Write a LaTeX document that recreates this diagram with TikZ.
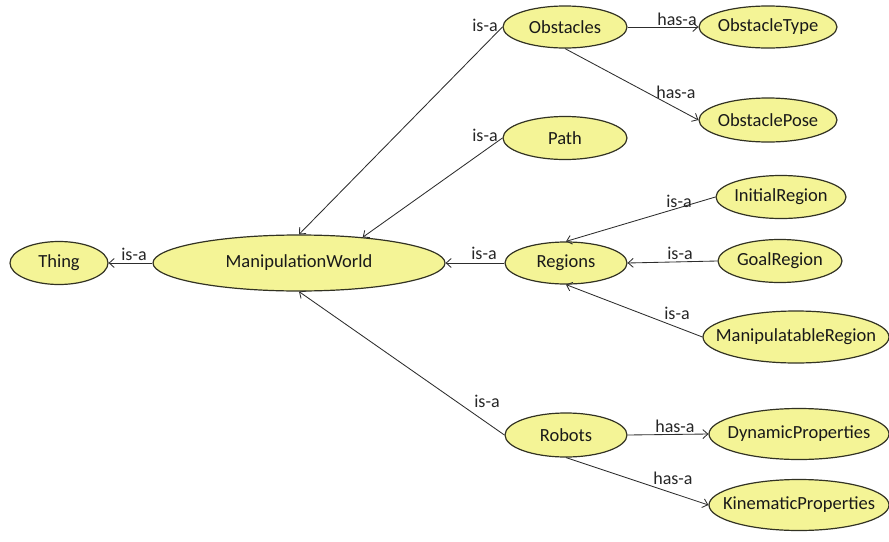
\documentclass[tikz,border=0pt]{standalone}
\usepackage{fontspec}
\setmainfont{Carlito}
\usetikzlibrary{shapes.geometric,arrows.meta}
\definecolor{classfill}{RGB}{244,244,150}
\definecolor{edgegray}{RGB}{45,45,45}
\definecolor{rimcolor}{RGB}{50,50,35}
% class names are centred in a zero-width box so the ellipse keeps its set size
\newcommand\clname[1]{\makebox[0pt][c]{#1}}
\tikzset{
  cls/.style={ellipse, draw=rimcolor, line width=1.2pt, fill=classfill,
    inner sep=0pt, font=\fontsize{18.5}{21}\selectfont, text=black!90},
  rel/.style={draw=edgegray, line width=0.85pt,
    -{Straight Barb[length=5pt,width=9pt]}},
  lbl/.style={inner sep=0pt, font=\fontsize{18}{21}\selectfont, text=black!85}
}
\begin{document}
\begin{tikzpicture}[x=1pt,y=-1pt]
\useasboundingbox (0,0) rectangle (889,541);

% classes
\node[cls, minimum width=98pt,  minimum height=43pt] (thing)   at (59,263)  {\clname{Thing}};
\node[cls, minimum width=292pt, minimum height=56pt] (world)   at (299,263) {\clname{ManipulationWorld}};
\node[cls, minimum width=124pt, minimum height=42pt] (obst)    at (565,27)  {\clname{Obstacles}};
\node[cls, minimum width=138pt, minimum height=42pt] (otype)   at (768,27)  {\clname{ObstacleType}};
\node[cls, minimum width=138pt, minimum height=44pt] (opose)   at (768,120) {\clname{ObstaclePose}};
\node[cls, minimum width=124pt, minimum height=43pt] (path)    at (565,138) {\clname{Path}};
\node[cls, minimum width=122pt, minimum height=42pt] (regions) at (566,263) {\clname{Regions}};
\node[cls, minimum width=130pt, minimum height=43pt] (initr)   at (781,197) {\clname{InitialRegion}};
\node[cls, minimum width=124pt, minimum height=43pt] (goalr)   at (780,261) {\clname{GoalRegion}};
\node[cls, minimum width=186pt, minimum height=52pt] (manipr)  at (796,337) {\clname{ManipulatableRegion}};
\node[cls, minimum width=122pt, minimum height=44pt] (robots)  at (566,435) {\clname{Robots}};
\node[cls, minimum width=180pt, minimum height=51pt] (dynp)    at (799,434) {\clname{DynamicProperties}};
\node[cls, minimum width=180pt, minimum height=51pt] (kinp)    at (799,505) {\clname{KinematicProperties}};

% relations
\draw[rel] (world.west)   -- (thing.east);
\draw[rel] (obst.west)    -- (world.north);
\draw[rel] (path.west)    -- (world.22);
\draw[rel] (regions.west) -- (world.east);
\draw[rel] (robots.west)  -- (world.south);
\draw[rel] (obst.east)    -- (otype.west);
\draw[rel] (obst.south)   -- (opose.west);
\draw[rel] (initr.west)   -- (regions.north);
\draw[rel] (goalr.west)   -- (regions.east);
\draw[rel] (manipr.west)  -- (regions.south);
\draw[rel] (robots.east)  -- (dynp.west);
\draw[rel] (robots.south) -- (kinp.west);

% relation labels
\node[lbl] (l1)  at (134,254) {is-a};
\node[lbl] (l2)  at (485,25)  {is-a};
\node[lbl] (l3)  at (485,135) {is-a};
\node[lbl] (l4)  at (484,253) {is-a};
\node[lbl] (l5)  at (487,401) {is-a};
\node[lbl] (l6)  at (677,19)  {has-a};
\node[lbl] (l7)  at (676,92)  {has-a};
\node[lbl] (l8)  at (679,201) {is-a};
\node[lbl] (l9)  at (680,253) {is-a};
\node[lbl] (l10) at (677,313) {is-a};
\node[lbl] (l11) at (675,426) {has-a};
\node[lbl] (l12) at (673,478) {has-a};
\end{tikzpicture}
\end{document}
